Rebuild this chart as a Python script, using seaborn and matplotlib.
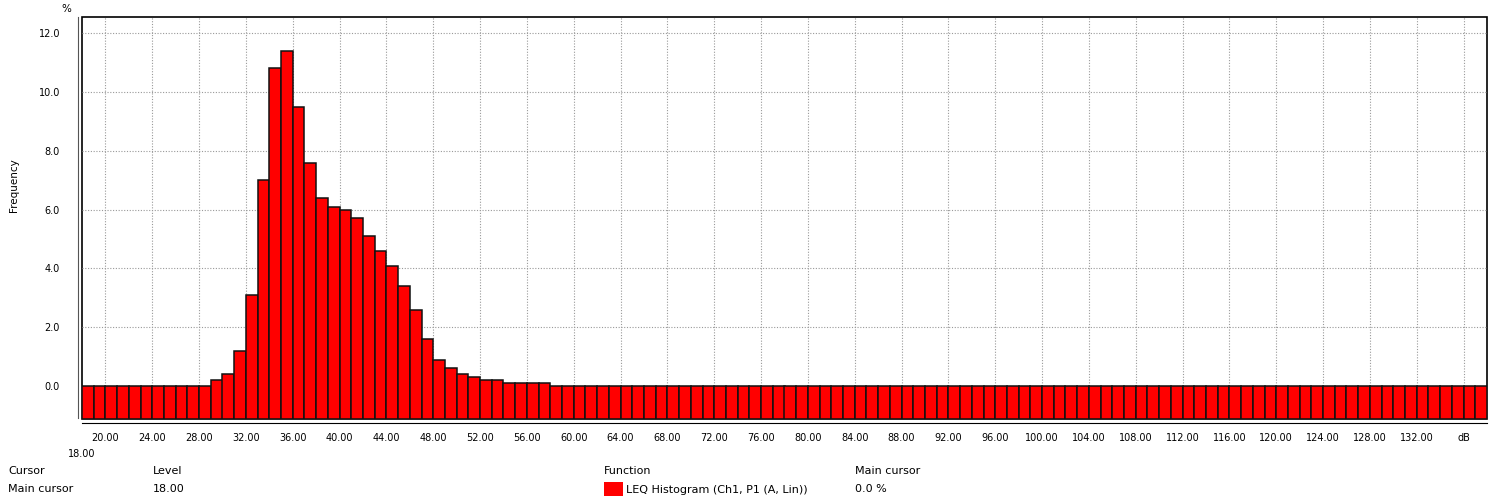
import matplotlib.pyplot as plt
import matplotlib.patches as mpatches
import numpy as np
import pandas as pd
import seaborn as sns

# 1 dB histogram classes (lower edge of each class, dB)
level_lo = np.arange(18, 138)

# frequency of each class in %
freq_pct = (
    [0.0] * 11
    + [0.2, 0.4, 1.2, 3.1, 7.0, 10.8, 11.4, 9.5, 7.6, 6.4,
       6.1, 6.0, 5.7, 5.1, 4.6, 4.1, 3.4, 2.6, 1.6, 0.9,
       0.6, 0.4, 0.3, 0.2, 0.2, 0.1, 0.1, 0.1, 0.1]
    + [0.0] * 80
)

x_ticks = list(range(20, 137, 4))
x_tick_labels = [f"{v:.2f}" for v in x_ticks[:-1]] + ["dB"]
y_ticks = [0, 2, 4, 6, 8, 10, 12]
y_tick_labels = [f"{v:.1f}" for v in y_ticks]

series_name = "LEQ Histogram (Ch1, P1 (A, Lin))"
cursor_level = "18.00"
cursor_value = "0.0 %"

# bars start at the bottom of the plot, not at zero
Y_FLOOR = -1.1
Y_TOP = 12.55

W, H = 1499, 500


def px(x, y):
    return x / W, 1 - y / H


def main():
    sns.set_style("white")
    plt.rcParams["font.family"] = ["DejaVu Sans"]
    plt.rcParams["font.size"] = 7
    plt.rcParams["text.color"] = "black"
    plt.rcParams["xtick.color"] = "black"
    plt.rcParams["ytick.color"] = "black"
    plt.rcParams["xtick.labelcolor"] = "black"
    plt.rcParams["ytick.labelcolor"] = "black"

    fig = plt.figure(figsize=(W / 100, H / 100), dpi=100)
    ax = fig.add_axes([82 / W, 1 - 418.5 / H, (1487 - 82) / W, (418.5 - 17) / H])

    df = pd.DataFrame({"level": level_lo + 0.5, "freq": freq_pct})
    df["bar_height"] = df["freq"] - Y_FLOOR

    sns.barplot(
        data=df,
        x="level",
        y="bar_height",
        native_scale=True,
        width=1.0,
        color="#ff0000",
        saturation=1,
        edgecolor="#111111",
        linewidth=1.1,
        bottom=Y_FLOOR,
        errorbar=None,
        ax=ax,
    )

    ax.set_xlim(18, 138)
    ax.set_ylim(Y_FLOOR, Y_TOP)
    ax.set_xlabel("")
    ax.set_ylabel("")
    ax.set_xticks(x_ticks, x_tick_labels)
    ax.set_xticks([18], ["18.00"], minor=True)
    ax.set_yticks(y_ticks, y_tick_labels)

    ax.set_axisbelow(True)
    ax.grid(True, which="major", color="#999999", linestyle=(0, (1, 1.5)), linewidth=0.8)

    ax.tick_params(axis="x", which="major", direction="inout", length=5, width=1,
                   pad=4.5, labelsize=7, colors="black")
    ax.tick_params(axis="x", which="minor", length=0, pad=18.5, labelsize=7, colors="black")
    ax.tick_params(axis="y", direction="inout", length=5, width=1,
                   pad=10.4, labelsize=7, colors="black")

    ax.spines["top"].set_visible(False)
    ax.spines["right"].set_visible(False)
    ax.spines["left"].set_position(("outward", 2.9))
    ax.spines["left"].set_color("#555555")
    ax.spines["bottom"].set_position(("outward", 3.2))
    ax.spines["bottom"].set_color("black")
    ax.patch.set_edgecolor("black")
    ax.patch.set_linewidth(1.2)

    fig.text(*px(66.7, 9), "%", ha="center", va="center", fontsize=7.5)
    fig.text(*px(13.5, 185), "Frequency", rotation=90, ha="center", va="center", fontsize=7.5)

    # cursor readout below the chart
    fs = 8
    fig.text(*px(8, 471), "Cursor", ha="left", va="center", fontsize=fs)
    fig.text(*px(8, 489), "Main cursor", ha="left", va="center", fontsize=fs)
    fig.text(*px(153, 471), "Level", ha="left", va="center", fontsize=fs)
    fig.text(*px(153, 489), cursor_level, ha="left", va="center", fontsize=fs)
    fig.text(*px(604, 471), "Function", ha="left", va="center", fontsize=fs)
    fig.text(*px(855, 471), "Main cursor", ha="left", va="center", fontsize=fs)
    fig.text(*px(855, 489), cursor_value, ha="left", va="center", fontsize=fs)

    fig.legend(
        handles=[mpatches.Patch(facecolor="#ff0000", edgecolor="none")],
        labels=[series_name],
        loc="center left",
        bbox_to_anchor=px(604, 489),
        frameon=False,
        fontsize=fs,
        borderpad=0,
        borderaxespad=0,
        handlelength=1.7,
        handleheight=1.6,
        handletextpad=0.25,
    )

    fig.savefig("out.png", dpi=100)
    plt.close(fig)


if __name__ == "__main__":
    main()
